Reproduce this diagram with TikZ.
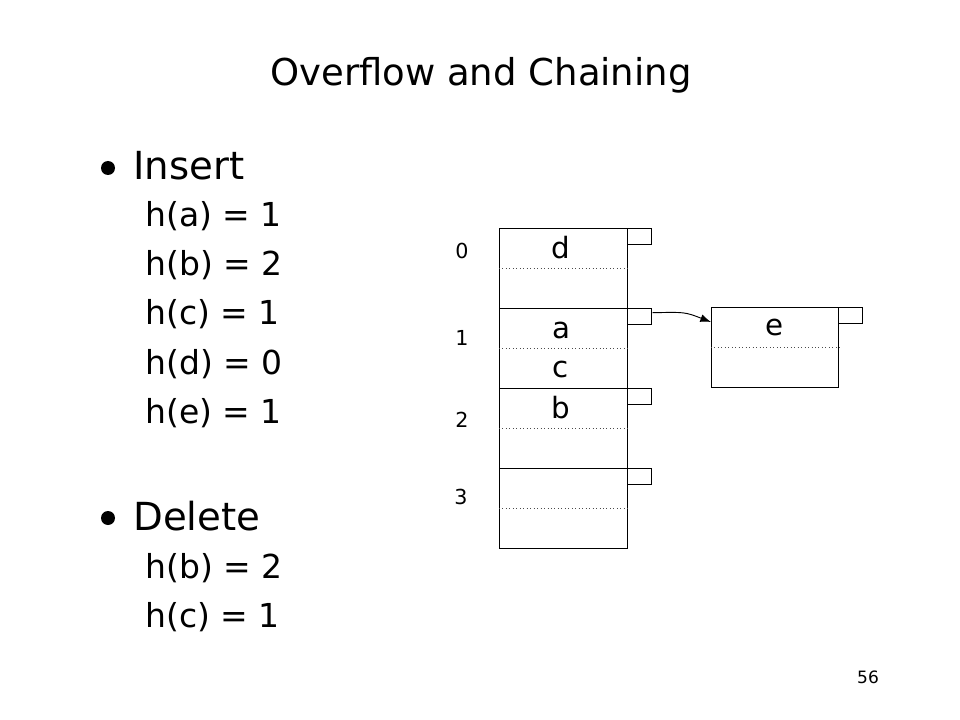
\documentclass[tikz,border=0pt]{standalone}
\usepackage{fontspec}
\setmainfont{DejaVu Sans}
\usetikzlibrary{arrows.meta}
\begin{document}
\begin{tikzpicture}[x=0.75pt,y=-0.75pt,
  bucket/.style={draw,line width=1.1pt,minimum width=96pt,minimum height=60pt,inner sep=0,anchor=north west},
  ptr/.style={draw,line width=1.1pt,minimum width=18pt,minimum height=12pt,inner sep=0,anchor=north west},
  sep/.style={draw=black!70,dotted,line width=0.6pt},
  cell/.style={inner sep=0,font=\fontsize{22}{26}\selectfont},
  idx/.style={inner sep=0,font=\fontsize{15.5}{18}\selectfont},
  item/.style={inner sep=0,anchor=west,font=\fontsize{24.75}{29}\selectfont},
  head/.style={inner sep=0,anchor=west,font=\fontsize{29}{34}\selectfont},
  bul/.style={circle,fill,inner sep=0,minimum size=10.5pt}]
\useasboundingbox[fill=white] (0,0) rectangle (960,720);
% title
\node[inner sep=0,font=\fontsize{27.75}{33}\selectfont] (title) at (481,75) {Overflow and Chaining};
% insert list
\node[bul] (bu1) at (108,168) {};
\node[head] (ins) at (133,166) {Insert};
\node[item] (i1) at (145,216) {h(a) = 1};
\node[item] (i2) at (145,265) {h(b) = 2};
\node[item] (i3) at (145,314) {h(c) = 1};
\node[item] (i4) at (145,364) {h(d) = 0};
\node[item] (i5) at (145,413) {h(e) = 1};
% delete list
\node[bul] (bu2) at (108,518) {};
\node[head] (del) at (133,516) {Delete};
\node[item] (d1) at (145,568) {h(b) = 2};
\node[item] (d2) at (145,617) {h(c) = 1};
% buckets
\node[bucket] (b0) at (499,228) {};
\node[bucket] (b1) at (499,308) {};
\node[bucket] (b2) at (499,388) {};
\node[bucket] (b3) at (499,468) {};
\foreach \b in {b0,b1,b2,b3} \draw[sep] (\b.west) -- (\b.east);
\node[ptr] (p0) at (627,228) {};
\node[ptr] (p1) at (627,308) {};
\node[ptr] (p2) at (627,388) {};
\node[ptr] (p3) at (627,468) {};
% overflow bucket
\node[draw,line width=1.1pt,minimum width=95.25pt,minimum height=60pt,inner sep=0,anchor=north west] (ov) at (711,307) {};
\draw[sep] (ov.west) -- (ov.east);
\node[ptr] (po) at (838,307) {};
% cell contents
\node[cell] (cd) at (561,248) {d};
\node[cell] (ca) at (561,330) {a};
\node[cell] (cc) at (561,369) {c};
\node[cell] (cb) at (561,408) {b};
\node[cell] (ce) at (775,327) {e};
% indices
\node[idx] (n0) at (462,251) {0};
\node[idx] (n1) at (462,338) {1};
\node[idx] (n2) at (462,420) {2};
\node[idx] (n3) at (461,497) {3};
% chain pointer
\draw[line width=0.7pt,-{Latex[length=8pt,width=6pt]}] ([yshift=3pt]p1.east) .. controls (685,312) .. ([yshift=-11.25pt]ov.north west);
% page number
\node[inner sep=0,font=\fontsize{12.75}{15}\selectfont] (pg) at (868,677) {56};
\end{tikzpicture}
\end{document}
